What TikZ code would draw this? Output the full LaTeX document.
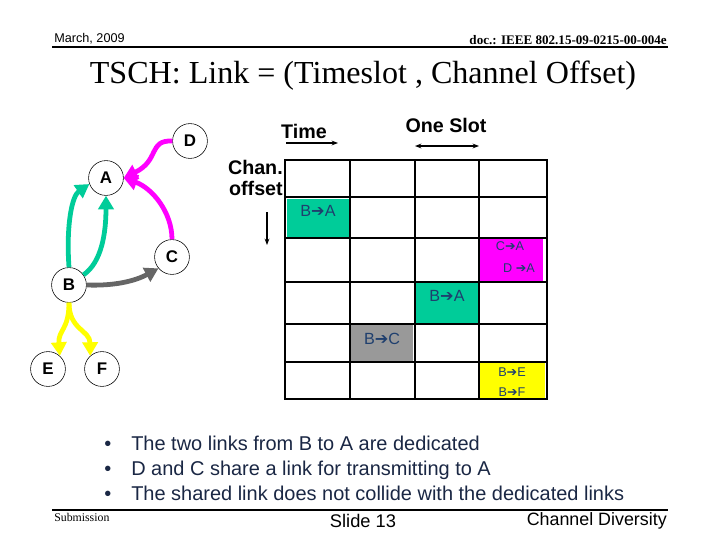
\documentclass[tikz,border=0pt]{standalone}
\usepackage{fontspec}
\setmainfont{Liberation Serif}
\setsansfont{Liberation Sans}
\newfontfamily\dejavu{DejaVu Sans}
\usetikzlibrary{arrows.meta,positioning}
\definecolor{lienA}{HTML}{00CC99}
\definecolor{partage}{HTML}{FF00FF}
\definecolor{versC}{HTML}{666666}
\definecolor{celgris}{HTML}{999999}
\definecolor{diffus}{HTML}{FFFF00}
\definecolor{encre}{HTML}{1F3F6E}
\definecolor{texte}{HTML}{1A2744}
\newcommand{\fl}{{\dejavu\bfseries\char"2794}}
\begin{document}
\begin{tikzpicture}[x=0.025cm,y=-0.025cm,
  noeud/.style={draw, thin, circle, fill=white, minimum size=0.87cm, inner sep=0pt, font=\sffamily\bfseries\fontsize{12}{14}\selectfont},
  lien/.style={line width=3.4pt, -{Triangle[length=3.4mm,width=3.8mm]}},
  case/.style={font=\sffamily\fontsize{11.5}{13}\selectfont, text=encre, inner sep=0pt},
  petit/.style={case, font=\sffamily\fontsize{9}{10}\selectfont},
  entete/.style={font=\sffamily\bfseries\fontsize{14}{16}\selectfont, inner sep=0pt},
  puce/.style={anchor=base west, font=\sffamily\fontsize{14.2}{17}\selectfont, text=texte, inner sep=0pt},
  trait/.style={line width=1.4pt, line cap=rect}]
  \useasboundingbox (0,0) rectangle (720,540);
  % en-tete et pied de page
  \node[anchor=west, inner sep=0pt, font=\sffamily\fontsize{9}{11}\selectfont] (date) at (54,39) {March, 2009};
  \node[anchor=east, inner sep=0pt, font=\bfseries\fontsize{9.3}{11}\selectfont] (doc) at (667,40) {doc.: IEEE 802.15-09-0215-00-004e};
  \draw[line width=1.8pt] (52,47) -- (668,47);
  \node[font=\fontsize{22.8}{26}\selectfont] (titre) at (363,76) {TSCH: Link = (Timeslot , Channel Offset)};
  \draw[line width=1.3pt] (52,510) -- (668,510);
  \node[anchor=west, inner sep=0pt, font=\fontsize{8.4}{10}\selectfont] (sub) at (54,517) {Submission};
  \node[inner sep=0pt, font=\sffamily\fontsize{13}{15}\selectfont] (slide) at (363,521) {Slide 13};
  \node[anchor=east, inner sep=0pt, font=\sffamily\fontsize{12.7}{15}\selectfont] (theme) at (667,521) {Channel Diversity};
  % noeuds du reseau
  \node[noeud] (D) at (190,141) {D};
  \node[noeud] (A) at (106,178) {A};
  \node[noeud] (C) at (172,257) {C};
  \node[noeud] (B) at (69,285) {B};
  \node[noeud] (E) at (48,369) {E};
  \node[noeud] (F) at (102,369) {F};
  % liens
  \draw[lien, lienA] (B.north) .. controls (66,225) and (72,196) .. (A.200);
  \draw[lien, lienA] (B.35) .. controls (102,262) and (106,232) .. (A.south);
  \draw[lien, partage] (C.north) .. controls (172,212) and (152,188) .. (A.east);
  \draw[lien, partage] (D.west) .. controls (148,140) and (160,160) .. (A.east);
  \draw[lien, versC] (B.east) .. controls (115,286) and (135,281) .. (C.220);
  \draw[lien, diffus] (B.south) .. controls (69,330) and (58,330) .. (E.48);
  \draw[lien, diffus] (B.south) .. controls (69,330) and (90,330) .. (F.132);
  % legende de la grille
  \node[entete] (temps) at (304,131) {Time};
  \coordinate (t0) at (286,143);
  \coordinate (t1) at (338,143);
  \draw[thick, -{Stealth[length=1.6mm]}] (t0) -- (t1);
  \node[entete] (slot) at (446,125) {One Slot};
  \coordinate (s0) at (415,146);
  \coordinate (s1) at (479,146);
  \draw[thick, {Stealth[length=1.6mm]}-{Stealth[length=1.6mm]}] (s0) -- (s1);
  \node[entete, anchor=east, align=right] (canal) at (283,178) {Chan.\\[-1.5pt]offset};
  \coordinate (c0) at (267,212);
  \coordinate (c1) at (267,245);
  \draw[thick, -{Stealth[length=1.6mm]}] (c0) -- (c1);
  % cases occupees
  \fill[lienA] (287,199) rectangle (349,237);
  \fill[partage] (480,239) rectangle (543,281);
  \fill[lienA] (416,283) rectangle (478,323);
  \fill[celgris] (351,325) rectangle (413,361);
  \fill[diffus] (480,363) rectangle (545,398);
  \node[case] (ba1) at (318,211) {B\fl A};
  \node[petit] (ca) at (510,246) {C\fl A};
  \node[petit] (da) at (519,268) {D \fl A};
  \node[case] (ba2) at (447,296) {B\fl A};
  \node[case] (bc) at (382,339) {B\fl C};
  \node[petit] (be) at (512,372) {B\fl E};
  \node[petit] (bf) at (512,392) {B\fl F};
  % grille
  \foreach \x in {350,415,479}
    \draw[trait] (\x,160) -- (\x,399);
  \foreach \y in {197,238,282,324,362}
    \draw[trait] (285,\y) -- (547,\y);
  \draw[line width=2pt] (285,160) rectangle (547,399);
  % commentaires
  \foreach \y/\t [count=\i] in {450/The two links from B to A are dedicated, 475/D and C share a link for transmitting to A, 500/The shared link does not collide with the dedicated links} {
    \node[puce] (p\i) at (104,\y) {\textbullet};
    \node[puce] (l\i) at (131,\y) {\t};
  }
\end{tikzpicture}
\end{document}
